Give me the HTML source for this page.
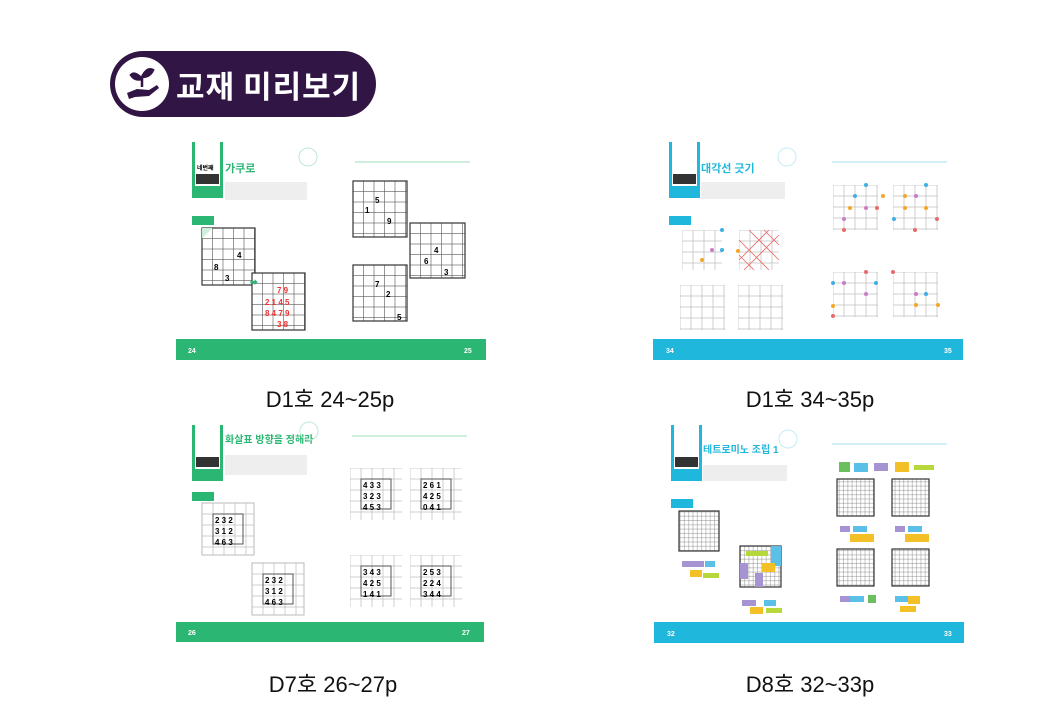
<!DOCTYPE html>
<html><head><meta charset="utf-8"><style>
body{margin:0;width:1040px;height:720px;background:#fff;position:relative;overflow:hidden;font-family:"Liberation Sans","Noto Sans CJK KR",sans-serif}
.badge{position:absolute;left:110px;top:51px;width:266px;height:66px;border-radius:33px;background:#311544}
.badge .c{position:absolute;left:5px;top:6px;width:54px;height:54px;border-radius:50%;background:#fff}
.badge .t{position:absolute;left:66px;top:11px;color:#fff;font-size:31px;font-weight:bold;font-family:"Noto Sans CJK KR",sans-serif;letter-spacing:1px}
.cap{position:absolute;font-size:22px;color:#111;width:300px;text-align:center;font-family:"Liberation Sans","Noto Sans CJK KR",sans-serif}
svg.sp{position:absolute}
</style></head><body>
<div class="badge"><div class="c"><svg width="54" height="54" viewBox="0 0 54 54"><path d="M12 36 L22 32 L34 33 L42 28 L44 31 L34 39 L20 40 L14 42 Z" fill="#311544"/><path d="M27 30 L27 20 M27 22 Q20 14 16 18 Q20 24 27 22 M27 20 Q32 10 38 13 Q35 20 27 20" stroke="#311544" stroke-width="2.5" fill="#311544"/></svg></div><div class="t">교재 미리보기</div></div>

<svg width="0" height="0" style="position:absolute"><defs>
<pattern id="g10" width="10.5" height="10.5" patternUnits="userSpaceOnUse"><rect width="10.5" height="10.5" fill="#fff" stroke="#555" stroke-width="0.6"/></pattern>
<pattern id="g11" width="11" height="11" patternUnits="userSpaceOnUse"><rect width="11" height="11" fill="none" stroke="#bbb" stroke-width="0.7"/></pattern>
<pattern id="g4" width="4.3" height="4.3" patternUnits="userSpaceOnUse"><rect width="4.3" height="4.3" fill="#fff" stroke="#777" stroke-width="0.4"/></pattern>
</defs></svg>

<!-- TL -->
<svg class="sp" style="left:170px;top:130px" width="320" height="240" font-family="Liberation Sans, Noto Sans CJK KR, sans-serif">
<rect x="22" y="12" width="31" height="56" fill="#2bb673"/><rect x="25" y="12" width="25" height="44" fill="#fff"/>
<text x="27" y="40" font-size="6" font-weight="bold">네번째</text><rect x="26" y="44" width="23" height="10" fill="#333"/>
<text x="55" y="42" font-size="11" font-weight="bold" fill="#2bb673">가쿠로</text>
<rect x="55" y="52" width="82" height="18" fill="#eee"/>
<circle cx="138" cy="27" r="9" fill="none" stroke="#bfe9d4"/>
<line x1="185" y1="32" x2="300" y2="32" stroke="#bfe9d4" stroke-width="1.5"/>
<rect x="22" y="86" width="22" height="9" fill="#2bb673"/>
<g transform="translate(32,98)"><rect width="53" height="57" fill="url(#g10)" stroke="#333" stroke-width="1.2"/><polygon points="0,0 10.5,0 0,10.5" fill="#cfeedd"/><text x="35" y="30" font-size="8" font-weight="bold">4</text><text x="12" y="42" font-size="8" font-weight="bold">8</text><text x="23" y="53" font-size="8" font-weight="bold">3</text></g>
<g transform="translate(82,143)"><rect width="53" height="57" fill="url(#g10)" stroke="#333" stroke-width="1.2"/><text x="25" y="20" font-size="8" font-weight="bold" fill="#e33">7 9</text><text x="13" y="32" font-size="8" font-weight="bold" fill="#e33">2 1 4 5</text><text x="13" y="43" font-size="8" font-weight="bold" fill="#e33">8 4 7 9</text><text x="25" y="54" font-size="8" font-weight="bold" fill="#e33">3 8</text></g>
<text x="80" y="155" font-size="8" fill="#2bb673">➡</text>
<g transform="translate(183,51)"><rect width="54" height="56" fill="url(#g10)" stroke="#333" stroke-width="1.2"/><text x="22" y="22" font-size="8" font-weight="bold">5</text><text x="12" y="32" font-size="8" font-weight="bold">1</text><text x="34" y="43" font-size="8" font-weight="bold">9</text></g>
<g transform="translate(240,93)"><rect width="55" height="55" fill="url(#g10)" stroke="#333" stroke-width="1.2"/><text x="24" y="30" font-size="8" font-weight="bold">4</text><text x="14" y="41" font-size="8" font-weight="bold">6</text><text x="34" y="52" font-size="8" font-weight="bold">3</text></g>
<g transform="translate(183,135)"><rect width="54" height="56" fill="url(#g10)" stroke="#333" stroke-width="1.2"/><text x="22" y="22" font-size="8" font-weight="bold">7</text><text x="33" y="32" font-size="8" font-weight="bold">2</text><text x="44" y="55" font-size="8" font-weight="bold">5</text></g>
<rect x="6" y="209" width="310" height="21" fill="#2bb673"/><text x="18" y="223" font-size="7" fill="#fff" font-weight="bold">24</text><text x="294" y="223" font-size="7" fill="#fff" font-weight="bold">25</text>
</svg>

<!-- TR -->
<svg class="sp" style="left:650px;top:130px" width="320" height="240" font-family="Liberation Sans, Noto Sans CJK KR, sans-serif">
<rect x="19" y="12" width="31" height="56" fill="#1fb7dc"/><rect x="22" y="12" width="25" height="44" fill="#fff"/><rect x="23" y="44" width="23" height="10" fill="#333"/>
<text x="51" y="42" font-size="11" font-weight="bold" fill="#1fb7dc">대각선 긋기</text>
<rect x="51" y="52" width="84" height="17" fill="#eee"/>
<circle cx="137" cy="27" r="9" fill="none" stroke="#c4ecf6"/>
<line x1="182" y1="32" x2="297" y2="32" stroke="#c4ecf6" stroke-width="1.5"/>
<rect x="19" y="86" width="22" height="9" fill="#1fb7dc"/>
<g transform="translate(32,100)"><rect width="40" height="40" fill="url(#g11)"/></g>
<g transform="translate(89,100)"><rect width="40" height="40" fill="url(#g11)"/><path d="M0 10 L30 40 M0 25 L15 40 M10 0 L40 30 M25 0 L40 15 M40 5 L5 40 M30 0 L0 30" stroke="#e66" stroke-width="0.8"/></g>
<g transform="translate(30,155)"><rect width="45" height="45" fill="url(#g11)"/></g>
<g transform="translate(88,155)"><rect width="45" height="45" fill="url(#g11)"/></g>
<g transform="translate(183,55)"><rect width="45" height="45" fill="url(#g11)"/></g>
<g transform="translate(243,55)"><rect width="45" height="45" fill="url(#g11)"/></g>
<g transform="translate(183,142)"><rect width="45" height="45" fill="url(#g11)"/></g>
<g transform="translate(243,142)"><rect width="45" height="45" fill="url(#g11)"/></g>
<g fill="#f5a623"><circle cx="200" cy="78" r="2"/><circle cx="233" cy="66" r="2"/><circle cx="255" cy="66" r="2"/><circle cx="255" cy="78" r="2"/><circle cx="276" cy="78" r="2"/><circle cx="183" cy="176" r="2"/><circle cx="266" cy="175" r="2"/><circle cx="288" cy="175" r="2"/><circle cx="88" cy="121" r="2"/><circle cx="52" cy="130" r="2"/></g>
<g fill="#3fb0e6"><circle cx="216" cy="55" r="2"/><circle cx="205" cy="66" r="2"/><circle cx="276" cy="55" r="2"/><circle cx="183" cy="153" r="2"/><circle cx="226" cy="153" r="2"/><circle cx="244" cy="89" r="2"/><circle cx="276" cy="164" r="2"/><circle cx="72" cy="100" r="2"/><circle cx="72" cy="120" r="2"/></g>
<g fill="#c77dc8"><circle cx="194" cy="89" r="2"/><circle cx="216" cy="78" r="2"/><circle cx="266" cy="66" r="2"/><circle cx="194" cy="153" r="2"/><circle cx="216" cy="164" r="2"/><circle cx="266" cy="164" r="2"/><circle cx="62" cy="120" r="2"/></g>
<g fill="#e86a6a"><circle cx="227" cy="78" r="2"/><circle cx="194" cy="100" r="2"/><circle cx="287" cy="89" r="2"/><circle cx="265" cy="100" r="2"/><circle cx="216" cy="142" r="2"/><circle cx="183" cy="186" r="2"/><circle cx="243" cy="142" r="2"/></g>
<rect x="3" y="209" width="310" height="21" fill="#1fb7dc"/><text x="16" y="223" font-size="7" fill="#fff" font-weight="bold">34</text><text x="294" y="223" font-size="7" fill="#fff" font-weight="bold">35</text>
</svg>

<!-- BL -->
<svg class="sp" style="left:170px;top:413px" width="320" height="240" font-family="Liberation Sans, Noto Sans CJK KR, sans-serif" font-size="8" font-weight="bold">
<rect x="22" y="12" width="31" height="56" fill="#2bb673"/><rect x="25" y="12" width="25" height="44" fill="#fff"/><rect x="26" y="44" width="23" height="10" fill="#333"/>
<text x="55" y="30" font-size="10" fill="#2bb673">화살표 방향을 정해라</text>
<rect x="55" y="42" width="82" height="20" fill="#eee"/>
<circle cx="139" cy="18" r="9" fill="none" stroke="#bfe9d4"/>
<line x1="182" y1="23" x2="297" y2="23" stroke="#bfe9d4" stroke-width="1.5"/>
<rect x="22" y="79" width="22" height="9" fill="#2bb673"/>
<g transform="translate(32,90)"><rect width="52" height="52" fill="url(#g11)" stroke="#bbb"/><rect x="11" y="11" width="30" height="30" fill="none" stroke="#555"/><text x="13" y="20">2 3 2</text><text x="13" y="31">3 1 2</text><text x="13" y="42">4 6 3</text></g>
<g transform="translate(82,150)"><rect width="52" height="52" fill="url(#g11)" stroke="#bbb"/><rect x="11" y="11" width="30" height="30" fill="none" stroke="#555"/><text x="13" y="20">2 3 2</text><text x="13" y="31">3 1 2</text><text x="13" y="42">4 6 3</text></g>
<g transform="translate(180,55)"><rect width="52" height="52" fill="url(#g11)"/><rect x="11" y="11" width="30" height="30" fill="none" stroke="#555"/><text x="13" y="20">4 3 3</text><text x="13" y="31">3 2 3</text><text x="13" y="42">4 5 3</text></g>
<g transform="translate(240,55)"><rect width="52" height="52" fill="url(#g11)"/><rect x="11" y="11" width="30" height="30" fill="none" stroke="#555"/><text x="13" y="20">2 6 1</text><text x="13" y="31">4 2 5</text><text x="13" y="42">0 4 1</text></g>
<g transform="translate(180,142)"><rect width="52" height="52" fill="url(#g11)"/><rect x="11" y="11" width="30" height="30" fill="none" stroke="#555"/><text x="13" y="20">3 4 3</text><text x="13" y="31">4 2 5</text><text x="13" y="42">1 4 1</text></g>
<g transform="translate(240,142)"><rect width="52" height="52" fill="url(#g11)"/><rect x="11" y="11" width="30" height="30" fill="none" stroke="#555"/><text x="13" y="20">2 5 3</text><text x="13" y="31">2 2 4</text><text x="13" y="42">3 4 4</text></g>
<rect x="6" y="209" width="308" height="20" fill="#2bb673"/><text x="18" y="222" font-size="7" fill="#fff">26</text><text x="292" y="222" font-size="7" fill="#fff">27</text>
</svg>

<!-- BR -->
<svg class="sp" style="left:650px;top:413px" width="320" height="240" font-family="Liberation Sans, Noto Sans CJK KR, sans-serif">
<rect x="21" y="12" width="31" height="56" fill="#1fb7dc"/><rect x="24" y="12" width="25" height="44" fill="#fff"/><rect x="25" y="44" width="23" height="10" fill="#333"/>
<text x="53" y="40" font-size="10" font-weight="bold" fill="#1fb7dc">테트로미노 조립 1</text>
<rect x="53" y="52" width="84" height="16" fill="#eee"/>
<circle cx="138" cy="26" r="9" fill="none" stroke="#c4ecf6"/>
<line x1="182" y1="31" x2="297" y2="31" stroke="#c4ecf6" stroke-width="1.5"/>
<rect x="21" y="86" width="22" height="9" fill="#1fb7dc"/>
<g stroke="#333" stroke-width="1.2"><rect x="29" y="98" width="40" height="40" fill="url(#g4)"/><rect x="90" y="133" width="41" height="41" fill="url(#g4)"/><rect x="187" y="66" width="37" height="37" fill="url(#g4)"/><rect x="242" y="66" width="37" height="37" fill="url(#g4)"/><rect x="187" y="136" width="37" height="37" fill="url(#g4)"/><rect x="242" y="136" width="37" height="37" fill="url(#g4)"/></g>
<rect x="96" y="138" width="22" height="5" fill="#b6d83a"/><rect x="121" y="133" width="10" height="20" fill="#5bc0e8"/><rect x="90" y="150" width="8" height="16" fill="#a694d2"/><rect x="112" y="150" width="13" height="9" fill="#f3c028"/><rect x="105" y="160" width="8" height="14" fill="#a694d2"/>
<g fill="#5bc0e8"><rect x="204" y="50" width="14" height="9"/><rect x="203" y="113" width="14" height="6"/><rect x="258" y="113" width="14" height="6"/><rect x="200" y="183" width="14" height="6"/><rect x="245" y="183" width="14" height="6"/><rect x="114" y="187" width="12" height="6"/><rect x="55" y="148" width="10" height="6"/></g>
<g fill="#a694d2"><rect x="224" y="50" width="14" height="8"/><rect x="190" y="113" width="10" height="6"/><rect x="245" y="113" width="10" height="6"/><rect x="190" y="183" width="10" height="6"/><rect x="92" y="187" width="14" height="6"/><rect x="32" y="148" width="22" height="6"/></g>
<g fill="#f3c028"><rect x="245" y="49" width="14" height="10"/><rect x="200" y="121" width="24" height="8"/><rect x="255" y="121" width="24" height="8"/><rect x="258" y="183" width="12" height="8"/><rect x="250" y="193" width="16" height="6"/><rect x="100" y="194" width="13" height="7"/><rect x="40" y="157" width="12" height="7"/></g>
<g fill="#b6d83a"><rect x="264" y="52" width="20" height="5"/><rect x="116" y="195" width="16" height="5"/><rect x="53" y="160" width="16" height="5"/></g>
<rect x="189" y="49" width="11" height="10" fill="#6cbf5e"/><rect x="218" y="182" width="8" height="8" fill="#6cbf5e"/>
<rect x="4" y="209" width="310" height="21" fill="#1fb7dc"/><text x="17" y="223" font-size="7" fill="#fff" font-weight="bold">32</text><text x="294" y="223" font-size="7" fill="#fff" font-weight="bold">33</text>
</svg>

<div class="cap" style="left:180px;top:382px">D1호 24~25p</div>
<div class="cap" style="left:660px;top:382px">D1호 34~35p</div>
<div class="cap" style="left:183px;top:667px">D7호 26~27p</div>
<div class="cap" style="left:660px;top:667px">D8호 32~33p</div>
</body></html>
